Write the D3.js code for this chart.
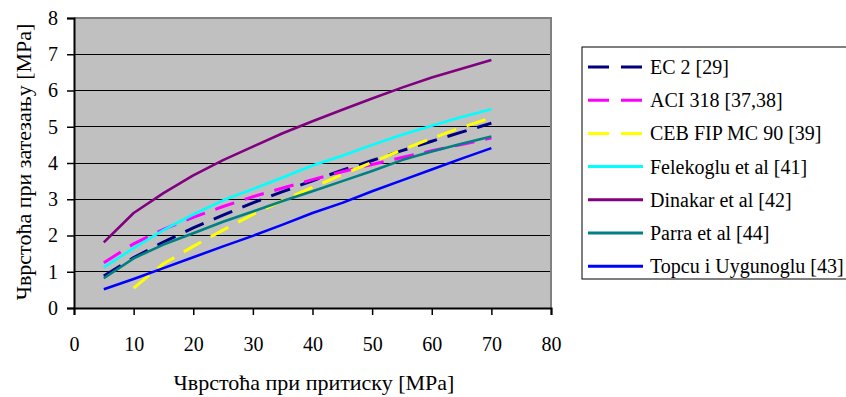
<!DOCTYPE html>
<html><head><meta charset="utf-8">
<script src="https://cdn.jsdelivr.net/npm/d3@7"></script>
<style>body{margin:0;background:#fff}svg{display:block}text{font-family:"Liberation Serif","Times New Roman",serif;fill:#000}</style>
</head><body><svg id="c" width="846" height="397"></svg>
<script>
const xValues = [5,10,15,20,25,30,35,40,45,50,55,60,65,70];
const seriesNames = ["EC 2 [29]","ACI 318 [37,38]","CEB FIP MC 90 [39]","Felekoglu et al [41]","Dinakar et al [42]","Parra et al [44]","Topcu i Uygunoglu [43]"];
const ec2 = [0.88,1.39,1.82,2.21,2.56,2.90,3.21,3.51,3.80,4.07,4.34,4.60,4.85,5.10];
const aci = [1.25,1.77,2.17,2.50,2.80,3.07,3.31,3.54,3.76,3.96,4.15,4.34,4.51,4.69];
const ceb = [null,0.55,1.22,1.70,2.15,2.58,2.97,3.33,3.68,4.02,4.36,4.68,4.98,5.25];
const felekoglu = [1.12,1.65,2.15,2.58,2.97,3.28,3.60,3.93,4.20,4.50,4.78,5.03,5.27,5.48];
const dinakar = [1.81,2.62,3.17,3.66,4.08,4.45,4.82,5.15,5.47,5.78,6.08,6.36,6.60,6.84];
const parra = [0.82,1.37,1.75,2.06,2.38,2.66,2.95,3.22,3.50,3.78,4.08,4.32,4.53,4.73];
const topcu = [0.52,0.80,1.10,1.40,1.70,1.99,2.30,2.62,2.90,3.22,3.52,3.82,4.12,4.41];
const colors = ["#000080","#FF00FF","#FFFF00","#00FFFF","#800080","#008080","#0000FF"];
const dashed = [true,true,true,false,false,false,false];
const xTicks = [0,10,20,30,40,50,60,70,80];
const yTicks = [0,1,2,3,4,5,6,7,8];
const xTitle = "Чврстоћа при притиску [MPa]";
const yTitle = "Чврстоћа при затезању [MPa]";

const allSeries = [ec2,aci,ceb,felekoglu,dinakar,parra,topcu];
const svg = d3.select("#c");
const L=74,R=551,T=18,B=308;
const x = d3.scaleLinear().domain([0,80]).range([L,R]);
const y = d3.scaleLinear().domain([0,8]).range([B,T]);

svg.append("rect").attr("x",L).attr("y",T).attr("width",R-L).attr("height",B-T).attr("fill","#C0C0C0");
// grid
svg.append("g").selectAll("line").data(yTicks.filter(d=>d>0&&d<8)).join("line")
  .attr("x1",L).attr("x2",R).attr("y1",d=>y(d)).attr("y2",d=>y(d))
  .attr("stroke","#000").attr("stroke-width",1).attr("shape-rendering","crispEdges");
// border top/right
svg.append("path").attr("d",`M${L},${T}H${R}V${B}`).attr("fill","none").attr("stroke","#808080").attr("stroke-width",2);

// lines
const line = d3.line().defined(d=>d[1]!=null).x(d=>x(d[0])).y(d=>y(d[1]));
allSeries.forEach((s,i)=>{
  svg.append("path").datum(xValues.map((v,j)=>[v,s[j]]))
    .attr("d",line).attr("fill","none").attr("stroke",colors[i])
    .attr("stroke-width",dashed[i]?3:2.6).attr("stroke-dasharray",dashed[i]?"20,11":null)
    .attr("stroke-linejoin","round");
});

// axes
const fs = 20;
const yAxis = svg.append("g").attr("transform",`translate(${L},0)`)
  .call(d3.axisLeft(y).tickValues(yTicks).tickSize(7).tickPadding(9).tickFormat(d3.format("d")));
const xAxis = svg.append("g").attr("transform",`translate(0,${B})`)
  .call(d3.axisBottom(x).tickValues(xTicks).tickSize(7).tickPadding(22).tickFormat(d3.format("d")));
[xAxis,yAxis].forEach(g=>{
  g.attr("font-family",null);
  g.selectAll("path.domain").attr("stroke","#000").attr("stroke-width",2);
  g.selectAll(".tick line").attr("stroke","#000").attr("stroke-width",1.5);
  g.selectAll(".tick text").attr("font-size",fs).attr("fill","#000");
});

// titles
svg.append("text").attr("x",314).attr("y",390).attr("text-anchor","middle").attr("font-size",22).text(xTitle);
svg.append("text").attr("transform","translate(31,162) rotate(-90)").attr("text-anchor","middle").attr("font-size",22).text(yTitle);

// legend
const lg = svg.append("g");
lg.append("rect").attr("x",582).attr("y",47).attr("width",270).attr("height",232)
  .attr("fill","#fff").attr("stroke","#000").attr("stroke-width",1);
seriesNames.forEach((n,i)=>{
  const cy = 67 + i*33.2;
  lg.append("line").attr("x1",588).attr("x2",643).attr("y1",cy).attr("y2",cy)
    .attr("stroke",colors[i]).attr("stroke-width",3).attr("stroke-dasharray",dashed[i]?"21,12":null);
  lg.append("text").attr("x",650).attr("y",cy).attr("dy","0.35em").attr("font-size",20).text(n);
});
</script></body></html>
